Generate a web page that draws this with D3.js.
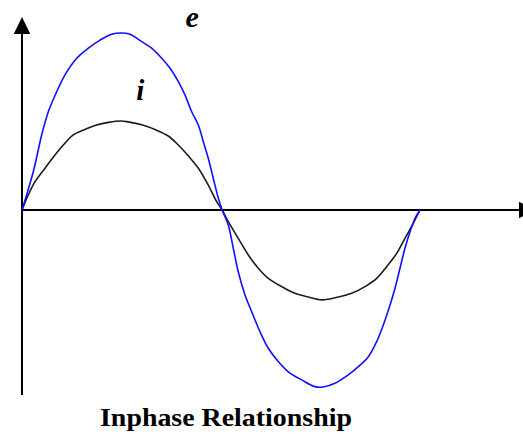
<!DOCTYPE html>
<html lang="en">
<head>
  <meta charset="UTF-8">
  <script src="https://d3js.org/d3.v7.min.js"></script>
  <title>Inphase Relationship</title>
  <style>
    html, body { margin: 0; padding: 0; background: #fff; }
    svg { display: block; }
  </style>
</head>
<body>
  <script>
    // e (voltage): [angle in degrees, amplitude]
    const eAngle = [0, 10.2, 17.8, 23.8, 31.4, 38.9, 49.5, 60, 70.6, 81.1, 89.5, 97.7, 108.3, 117.3, 126.4, 133.9, 141.4, 147.4, 153.5, 159.5, 164, 168.5, 173, 177.6, 181,
                    186.6, 191.1, 195.6, 201.7, 207.8, 215.3, 222.8, 231.8, 240.9, 253, 265, 272.3, 283.1, 295.1, 304.2, 313.3, 320.8, 326.8, 332.9, 337.4, 341.9, 346.4, 351, 355.5, 360]
    const eValue = [0, 0.216, 0.424, 0.555, 0.668, 0.763, 0.857, 0.914, 0.96, 0.993, 1.0, 0.993, 0.951, 0.914, 0.857, 0.801, 0.725, 0.65, 0.555, 0.48, 0.386, 0.292, 0.179, 0.066, 0,
                    -0.085, -0.216, -0.349, -0.48, -0.575, -0.688, -0.781, -0.856, -0.914, -0.96, -0.998, -1.0, -0.979, -0.932, -0.885, -0.829, -0.744, -0.65, -0.537, -0.442, -0.329, -0.216, -0.123, -0.047, 0]

    // i (current)
    const iAngle = [0, 5.7, 11.8, 20.8, 29.8, 37.4, 46.4, 57, 66, 78.1, 89.5, 96.1, 108.3, 120.3, 132.3, 141.4, 150.4, 159.5, 168.5, 176.1, 181,
                    186.6, 195.6, 204.7, 213.7, 222.8, 234.9, 246.9, 259, 271.4, 286.1, 298.2, 310.2, 320.8, 329.9, 338.9, 346.4, 353.9, 360]
    const iValue = [0, 0.085, 0.16, 0.236, 0.311, 0.367, 0.424, 0.455, 0.478, 0.495, 0.503, 0.498, 0.482, 0.455, 0.418, 0.367, 0.306, 0.236, 0.141, 0.047, 0,
                    -0.066, -0.16, -0.254, -0.329, -0.386, -0.433, -0.471, -0.492, -0.508, -0.492, -0.471, -0.433, -0.386, -0.32, -0.245, -0.16, -0.075, 0]

    const labels = ["e", "i"]
    const title = "Inphase Relationship"

    const width = 523
    const height = 435

    const svg = d3.select("body").append("svg")
                  .attr("width", width)
                  .attr("height", height)

    // scales
    const xScale = d3.scaleLinear().domain([0, 360]).range([22, 420])
    const yScale = d3.scaleLinear().domain([-1, 1]).range([387, 33])

    // axes (plain lines with arrow heads)
    const ax = svg.append("g")
    ax.append("line")
      .attr("x1", xScale(0)).attr("x2", xScale(0))
      .attr("y1", yScale(-1.045)).attr("y2", yScale(1.0))
      .attr("stroke", "#000").attr("stroke-width", 2)
    ax.append("path")
      .attr("d", `M${xScale(0)},${yScale(1.09)} L${xScale(-7.5)},${yScale(0.995)} L${xScale(7.5)},${yScale(0.995)} Z`)
      .attr("fill", "#000")

    ax.append("line")
      .attr("x1", xScale(0)).attr("x2", xScale(452))
      .attr("y1", yScale(0)).attr("y2", yScale(0))
      .attr("stroke", "#000").attr("stroke-width", 2)
    ax.append("path")
      .attr("d", `M${xScale(464)},${yScale(0)} L${xScale(449.5)},${yScale(0.047)} L${xScale(449.5)},${yScale(-0.047)} Z`)
      .attr("fill", "#000")

    // curves
    const line = d3.line()
                   .x(d => xScale(d[0]))
                   .y(d => yScale(d[1]))
                   .curve(d3.curveCatmullRom)

    svg.append("path")
      .datum(iAngle.map((a, k) => [a, iValue[k]]))
      .attr("d", line)
      .attr("fill", "none")
      .attr("stroke", "#1c1c1c")
      .attr("stroke-width", 1.6)

    svg.append("path")
      .datum(eAngle.map((a, k) => [a, eValue[k]]))
      .attr("d", line)
      .attr("fill", "none")
      .attr("stroke", "#1010ff")
      .attr("stroke-width", 1.6)

    // curve labels
    svg.append("text")
      .attr("x", xScale(154)).attr("y", yScale(1.035))
      .attr("text-anchor", "middle")
      .style("font", "italic bold 30px 'Liberation Serif', serif")
      .text(labels[0])

    svg.append("text")
      .attr("x", xScale(107)).attr("y", yScale(0.62))
      .attr("text-anchor", "middle")
      .style("font", "italic bold 29px 'Liberation Serif', serif")
      .text(labels[1])

    // title
    svg.append("text")
      .attr("x", 226).attr("y", 426)
      .attr("text-anchor", "middle")
      .attr("textLength", 252)
      .attr("lengthAdjust", "spacingAndGlyphs")
      .style("font", "bold 25px 'Liberation Serif', serif")
      .text(title)
  </script>
</body>
</html>
